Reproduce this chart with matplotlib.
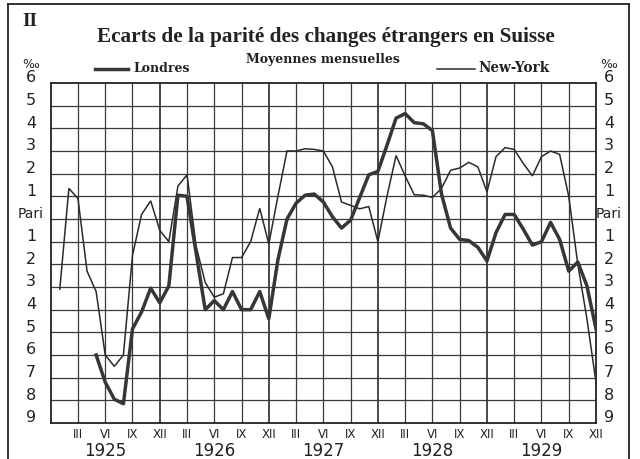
import matplotlib
matplotlib.use("Agg")
import matplotlib.pyplot as plt
from matplotlib.transforms import ScaledTranslation
from matplotlib.lines import Line2D

# months counted from Dec 1924 (=0); Jan 1925 = 1 ... Dec 1929 = 60
ny_months = list(range(1, 61))
ny_values = [-3.1, 1.35, 0.9, -2.3, -3.2, -6.0, -6.5, -6.0, -1.6, 0.2, 0.8, -0.5,
             -1.0, 1.45, 1.95, -1.2, -2.8, -3.45, -3.3, -1.7, -1.7, -1.0, 0.47, -1.1,
             1.0, 3.0, 3.0, 3.1, 3.07, 3.0, 2.3, 0.75, 0.6, 0.45, 0.55, -1.0,
             1.0, 2.8, 1.9, 1.07, 1.05, 0.95, 1.35, 2.15, 2.25, 2.5, 2.3, 1.2,
             2.75, 3.15, 3.07, 2.45, 1.9, 2.75, 3.0, 2.85, 1.0, -2.0, -4.4, -7.2]

lon_months = list(range(5, 61))
lon_values = [-6.0, -7.2, -7.95, -8.15, -4.85, -4.1, -3.05, -3.7,
              -2.95, 1.05, 1.0, -1.5, -4.0, -3.6, -4.0, -3.2, -4.0, -4.0, -3.2, -4.4,
              -1.8, 0.0, 0.7, 1.05, 1.1, 0.75, 0.1, -0.4, -0.05, 0.95, 1.95, 2.1,
              3.25, 4.45, 4.65, 4.25, 4.2, 3.9, 1.1, -0.4, -0.9, -0.95, -1.25, -1.85,
              -0.6, 0.2, 0.2, -0.45, -1.15, -1.0, -0.15, -0.9, -2.3, -1.9, -2.95, -4.85]

month_ticks = [3, 6, 9, 12] * 5
month_names = ["III", "VI", "IX", "XII"] * 5
years = ["1925", "1926", "1927", "1928", "1929"]
y_levels = [6, 5, 4, 3, 2, 1, 0, -1, -2, -3, -4, -5, -6, -7, -8, -9]
y_names = ["6", "5", "4", "3", "2", "1", "Pari", "1", "2", "3", "4", "5", "6", "7", "8", "9"]

W, H = 640, 459
fig = plt.figure(figsize=(W / 100, H / 100), dpi=100)
L, R, T, B = 50.7, 596, 83, 423
ax = fig.add_axes([L / W, 1 - B / H, (R - L) / W, (B - T) / H])
ax.set_xlim(0, 60)
ax.set_ylim(-9, 6)

grid_c = "#3a3a3a"
for i in range(3, 60, 3):
    ax.axvline(i, color=grid_c, lw=1.3 if i % 12 == 0 else 0.9, zorder=1)
for v in range(-8, 6):
    ax.axhline(v, color=grid_c, lw=0.9, zorder=1)
for s in ax.spines.values():
    s.set_color("#222222")
    s.set_linewidth(1.3)

ax.plot(ny_months, ny_values, color="#2a2a2a", lw=1.1, zorder=3, solid_joinstyle="miter")
ax.plot(lon_months, lon_values, color="#363636", lw=2.5, zorder=4, solid_joinstyle="round")

ax.set_xticks([])
ax.set_yticks([])
# month labels
xt = ax.get_xaxis_transform()
for k, (m, name) in enumerate(zip(month_ticks, month_names)):
    pos = (k // 4) * 12 + m
    ax.text(pos, -0.035, name, transform=xt, ha="center", va="center",
            fontsize=8.5, family="Liberation Sans Narrow", color="#222222")
for k, yr in enumerate(years):
    ax.text(k * 12 + 6, -0.083, yr, transform=xt, ha="center", va="center",
            fontsize=12, family="DejaVu Sans", color="#222222")

yt = ax.get_yaxis_transform() + ScaledTranslation(0, 5 / 100, fig.dpi_scale_trans)
for v, name in zip(y_levels, y_names):
    fs = 10 if name == "Pari" else 11.5
    for xx in ((31 - L) / (R - L), (609 - L) / (R - L)):
        ax.text(xx, v, name, transform=yt, ha="center", va="center",
                fontsize=fs, family="Liberation Sans Narrow", color="#222222")
for xx in (31, 609):
    fig.text(xx / W, 1 - 65 / H, "‰", ha="center", va="center", fontsize=9,
             family="DejaVu Sans", color="#222222")

fig.text(30 / W, 1 - 22 / H, "II", ha="center", va="center", fontsize=14,
         family="Liberation Serif", weight="bold", color="#222222")
fig.text(326 / W, 1 - 37 / H, "Ecarts de la parité des changes étrangers en Suisse",
         ha="center", va="center", fontsize=15.3, family="Liberation Serif", weight="bold",
         color="#222222")
fig.text(323 / W, 1 - 60 / H, "Moyennes mensuelles", ha="center", va="center",
         fontsize=9, family="DejaVu Serif", weight="bold", color="#222222")

fig.add_artist(Line2D([95 / W, 128 / W], [1 - 69 / H] * 2, color="#363636", lw=2.5))
fig.text(133 / W, 1 - 68 / H, "Londres", ha="left", va="center", fontsize=9,
         family="DejaVu Serif", weight="bold", color="#222222")
fig.add_artist(Line2D([437 / W, 475 / W], [1 - 69 / H] * 2, color="#2a2a2a", lw=1.1))
fig.text(478 / W, 1 - 68 / H, "New-York", ha="left", va="center", fontsize=9.8,
         family="DejaVu Serif", weight="bold", color="#222222")

# outer frame
fig.add_artist(Line2D([8 / W, 8 / W], [0, 1 - 4 / H], color="#222222", lw=1.3))
fig.add_artist(Line2D([629 / W, 629 / W], [0, 1 - 4 / H], color="#222222", lw=1.3))
fig.add_artist(Line2D([8 / W, 629 / W], [1 - 4 / H] * 2, color="#222222", lw=1.3))

fig.savefig("out.png", dpi=100)
